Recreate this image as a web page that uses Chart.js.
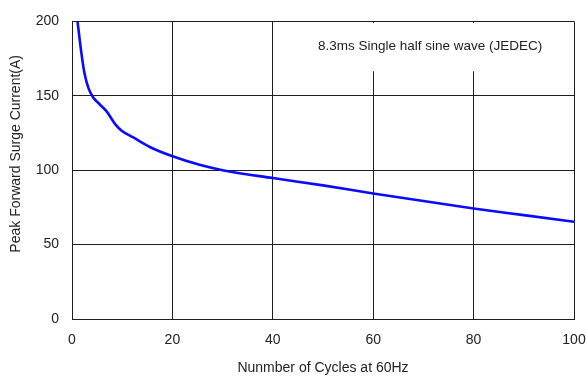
<!DOCTYPE html>
<html>
<head>
<meta charset="utf-8">
<script src="https://cdn.jsdelivr.net/npm/chart.js@4"></script>
<style>
  html, body { margin: 0; padding: 0; background: #fff; }
  #wrap { width: 586px; height: 380px; }
</style>
</head>
<body>
<div id="wrap"><canvas id="myChart" width="586" height="380"></canvas></div>
<script>
// cycles
const cycles = [1.1, 1.9, 2.5, 3.3, 4.2, 5.6, 6.9, 8.6, 9.9, 12.2, 15.5, 19.9, 25.4, 30, 40, 50, 60, 70, 80, 90, 100];
// peak forward surge current (A)
const current = [200, 178, 165, 155, 149, 144, 139.5, 131, 126.5, 122, 115.6, 109.5, 103.6, 100, 94.7, 89.8, 84.3, 79.3, 74.3, 69.8, 65.3];
const xTicks = [0, 20, 40, 60, 80, 100];
const yTicks = [0, 50, 100, 150, 200];
const noteText = '8.3ms Single half sine wave (JEDEC)';
const yTitle = 'Peak Forward Surge Current(A)';
const xTitle = 'Nunmber of Cycles at 60Hz';

const gridColor = '#1e1e1e';
const textColor = '#222';
const fontFamily = '"Liberation Sans", Arial, sans-serif';

// white box with the test condition, drawn over the grid,
// plus the y title which sits above centre in the original
const notePlugin = {
  id: 'note',
  afterDraw(chart) {
    const ctx = chart.ctx;
    const area = chart.chartArea;
    const x = chart.scales.x;
    const y = chart.scales.y;
    const left = x.getPixelForValue(45);
    const top = area.top + 1.5;
    const bottom = y.getPixelForValue(166.5);
    ctx.save();
    ctx.fillStyle = '#fff';
    ctx.fillRect(left, top, area.right - 1 - left, bottom - top);
    ctx.fillStyle = textColor;
    ctx.font = '13.5px ' + fontFamily;
    ctx.textBaseline = 'middle';
    ctx.fillText(noteText, x.getPixelForValue(49), y.getPixelForValue(183.5));

    ctx.font = '14px ' + fontFamily;
    ctx.textAlign = 'center';
    ctx.translate(16, y.getPixelForValue(111));
    ctx.rotate(-Math.PI / 2);
    ctx.fillText(yTitle, 0, 0);
    ctx.restore();
  }
};

const ctx = document.getElementById('myChart').getContext('2d');
const chart = new Chart(ctx, {
  type: 'line',
  data: {
    datasets: [{
      data: cycles.map((c, i) => ({ x: c, y: current[i] })),
      borderColor: '#0a0aff',
      borderWidth: 2.6,
      pointRadius: 0,
      fill: false,
      cubicInterpolationMode: 'monotone'
    }]
  },
  options: {
    responsive: false,
    animation: false,
    layout: { padding: { top: 18, right: 12, left: 0, bottom: 0 } },
    plugins: {
      legend: { display: false },
      tooltip: { enabled: false }
    },
    scales: {
      x: {
        type: 'linear',
        min: 0,
        max: 100,
        afterFit(scale) {
          scale.height = 61;
          scale.paddingLeft = 0;
          scale.paddingRight = 0;
        },
        afterBuildTicks(scale) { scale.ticks = xTicks.map(v => ({ value: v })); },
        grid: { color: gridColor, lineWidth: 1, drawTicks: false },
        border: { color: gridColor, width: 1 },
        ticks: {
          color: textColor,
          padding: 13,
          font: { family: fontFamily, size: 14 }
        },
        title: {
          display: true,
          text: xTitle,
          color: textColor,
          padding: { top: 4, bottom: 3 },
          font: { family: fontFamily, size: 14 }
        }
      },
      y: {
        min: 0,
        max: 200,
        afterFit(scale) { scale.width = 72; },
        afterBuildTicks(scale) { scale.ticks = yTicks.map(v => ({ value: v })); },
        grid: { color: gridColor, lineWidth: 1, drawTicks: false },
        border: { color: gridColor, width: 1 },
        ticks: {
          color: textColor,
          padding: 13,
          font: { family: fontFamily, size: 14 }
        }
      }
    }
  },
  plugins: [notePlugin]
});
</script>
</body>
</html>
